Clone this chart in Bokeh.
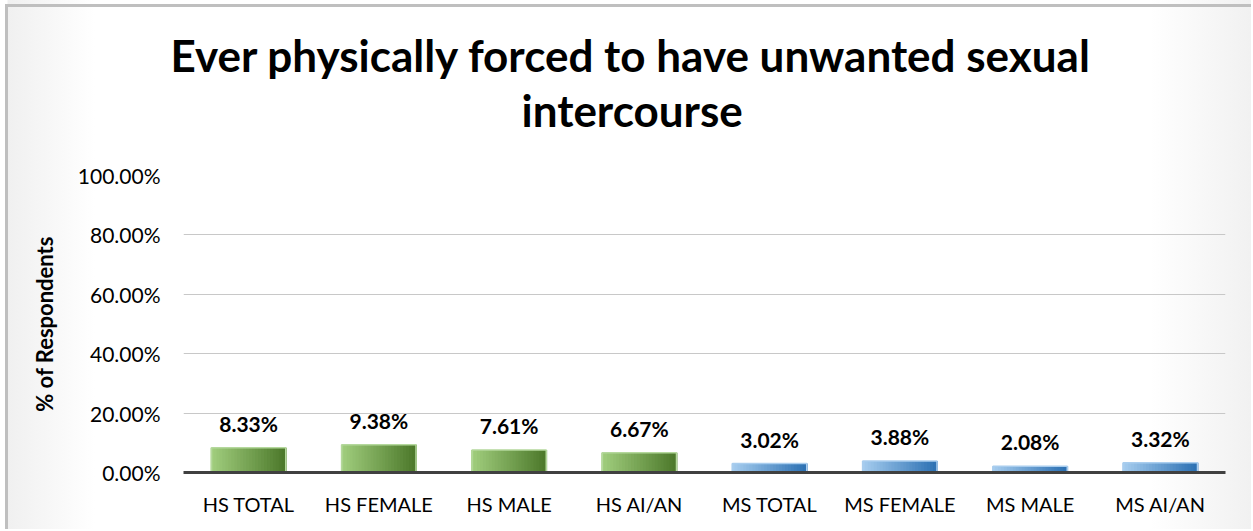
import numpy as np
from bokeh.plotting import figure
from bokeh.models import (ColumnDataSource, LabelSet, Title, FactorRange, Range1d,
                          PrintfTickFormatter, FixedTicker)
from bokeh.core.properties import value
from bokeh.transform import dodge
from bokeh.embed import file_html
from bokeh.resources import INLINE

# ---- data ----
categories = ["HS TOTAL", "HS FEMALE", "HS MALE", "HS AI/AN",
              "MS TOTAL", "MS FEMALE", "MS MALE", "MS AI/AN"]
values = [8.33, 9.38, 7.61, 6.67, 3.02, 3.88, 2.08, 3.32]
groups = ["HS", "HS", "HS", "HS", "MS", "MS", "MS", "MS"]
value_labels = ["8.33%", "9.38%", "7.61%", "6.67%", "3.02%", "3.88%", "2.08%", "3.32%"]
y_ticks = [0, 20, 40, 60, 80, 100]
title_lines = ["Ever physically forced to have unwanted sexual", "intercourse"]
y_title = "% of Respondents"

# ---- style ----
FONT = "Lato"
grad = {"HS": ((160, 205, 125), (78, 122, 44)),
        "MS": ((165, 204, 238), (46, 114, 180))}
edge = {"HS": "#b4d89c", "MS": "#a9cdee"}
N_STRIPS = 25
BAR_W = 0.57

def mix(c1, c2, t):
    return "#%02x%02x%02x" % tuple(int(round(a + (b - a) * t)) for a, b in zip(c1, c2))

data = dict(cat=categories, val=values, grp=groups, lab=value_labels,
            edge=[edge[g] for g in groups])
for i in range(N_STRIPS):
    t = i / (N_STRIPS - 1)
    data["c%d" % i] = [mix(grad[g][0], grad[g][1], t) for g in groups]
src = ColumnDataSource(data)

p = figure(x_range=FactorRange(*categories), y_range=Range1d(0, 100),
           width=1251, height=529, output_backend="svg", toolbar_location=None,
           min_border_left=183, min_border_right=26, min_border_top=175,
           min_border_bottom=57)
p.background_fill_alpha = 0
p.border_fill_alpha = 0
p.outline_line_color = None
p.styles = {
    "background": ("linear-gradient(#bfbfbf, #bfbfbf) 5px 4px / 1251px 3px no-repeat, "
                   "linear-gradient(#bfbfbf, #bfbfbf) 5px 4px / 3px 529px no-repeat, "
                   "linear-gradient(to right, #ffffff 0px, #ffffff 7px, #f0f0f0 8px, #ffffff 95px, "
                   "#ffffff 1150px, #f1f1f1 1251px)"),
}

sw = BAR_W / N_STRIPS
for i in range(N_STRIPS):
    off = -BAR_W / 2 + (i + 0.5) * sw
    p.vbar(x=dodge("cat", off, range=p.x_range), top="val", bottom=0,
           width=sw * 1.6, fill_color="c%d" % i, line_color=None, source=src)
p.vbar(x="cat", top="val", bottom=0, width=BAR_W, fill_alpha=0,
       line_color="edge", line_width=1.5, source=src)

labels = LabelSet(x="cat", y="val", text="lab", source=src, text_align="center",
                  text_baseline="alphabetic", y_offset=16,
                  text_font=value(FONT), text_font_style="bold",
                  text_font_size="21px", text_color="black")
p.add_layout(labels)

# axes
p.xgrid.grid_line_color = None
p.ygrid.grid_line_color = "#c8c8c8"
p.ygrid.grid_line_width = 1

p.yaxis.ticker = FixedTicker(ticks=y_ticks)
p.yaxis.formatter = PrintfTickFormatter(format="%.2f%%")
p.yaxis.axis_line_color = None
p.yaxis.major_tick_line_color = None
p.yaxis.minor_tick_line_color = None
p.yaxis.major_tick_out = 0
p.yaxis.major_tick_in = 0
p.yaxis.major_label_standoff = 23
p.yaxis.major_label_text_font = FONT
p.yaxis.major_label_text_font_size = "21px"
p.yaxis.major_label_text_color = "#000000"
p.yaxis.axis_label = y_title
p.yaxis.axis_label_text_font = FONT
p.yaxis.axis_label_text_font_style = "bold"
p.yaxis.axis_label_text_font_size = "22px"
p.yaxis.axis_label_text_color = "#000000"
p.yaxis.axis_label_standoff = 17

p.xaxis.axis_line_color = "#404040"
p.xaxis.axis_line_width = 3
p.xaxis.major_tick_line_color = None
p.xaxis.minor_tick_line_color = None
p.xaxis.major_tick_out = 0
p.xaxis.major_tick_in = 0
p.xaxis.major_label_standoff = 19
p.xaxis.major_label_text_font = FONT
p.xaxis.major_label_text_font_size = "20px"
p.xaxis.major_label_text_color = "#000000"

# title lines (spacer closest to frame, then line 2, then line 1)
spacer = Title(text=" ", standoff=36, text_font_size="1px")
t2 = Title(text=title_lines[1], align="left", offset=338, standoff=2,
           text_font=FONT, text_font_style="bold", text_font_size="44px",
           text_color="black")
t1 = Title(text=title_lines[0], align="left", offset=-13, standoff=0,
           text_font=FONT, text_font_style="bold", text_font_size="44px",
           text_color="black")
p.add_layout(spacer, "above")
p.add_layout(t2, "above")
p.add_layout(t1, "above")

open("out.html", "w").write(file_html(p, INLINE))
